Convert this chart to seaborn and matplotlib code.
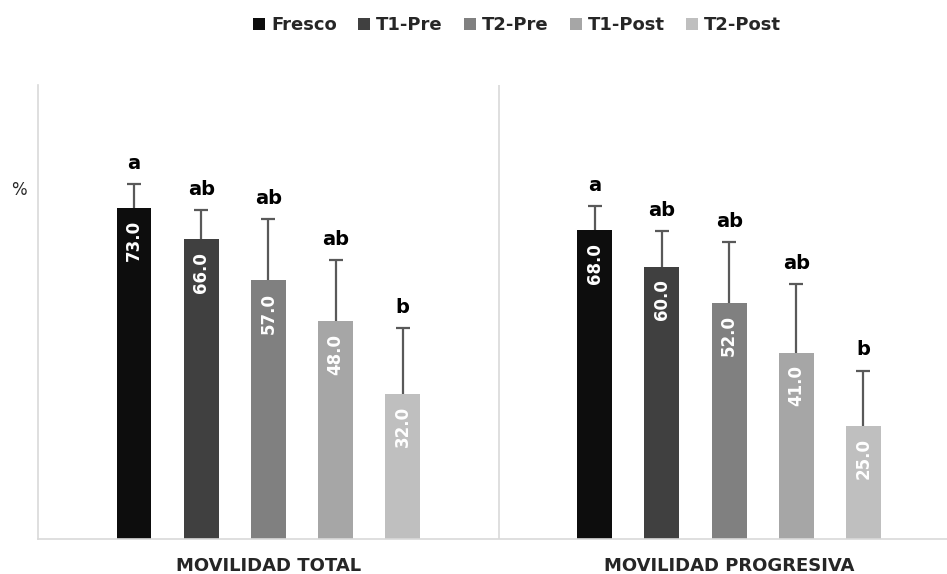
import matplotlib
matplotlib.use("Agg")
import matplotlib.pyplot as plt
from matplotlib.patches import Patch
import seaborn as sns
import pandas as pd
import numpy as np

# ---- data ----
groups = ["MOVILIDAD TOTAL", "MOVILIDAD PROGRESIVA"]
treatments = ["Fresco", "T1-Pre", "T2-Pre", "T1-Post", "T2-Post"]
total_vals = [73.0, 66.0, 57.0, 48.0, 32.0]
progresiva_vals = [68.0, 60.0, 52.0, 41.0, 25.0]
total_err = [5.2, 6.5, 13.5, 13.5, 14.4]
progresiva_err = [5.3, 7.8, 13.4, 15.2, 12.1]
total_letters = ["a", "ab", "ab", "ab", "b"]
progresiva_letters = ["a", "ab", "ab", "ab", "b"]
colors = ["#0d0d0d", "#404040", "#808080", "#a6a6a6", "#bfbfbf"]

rows = []
for g, vals, errs, lets in [(groups[0], total_vals, total_err, total_letters),
                            (groups[1], progresiva_vals, progresiva_err, progresiva_letters)]:
    for t, v, e, l in zip(treatments, vals, errs, lets):
        rows.append({"grupo": g, "tratamiento": t, "valor": v, "err": e, "letra": l})
df = pd.DataFrame(rows)

sns.set_theme(style="white")
plt.rcParams["font.family"] = ["DejaVu Sans"]

W, H = 947, 574
fig = plt.figure(figsize=(W / 100, H / 100), dpi=100)
ax_left, ax_right = 38, 959.5
ax_top, ax_bottom = 85, 539
ax = fig.add_axes([ax_left / W, (H - ax_bottom) / H,
                   (ax_right - ax_left) / W, (ax_bottom - ax_top) / H])

palette = dict(zip(treatments, colors))
sns.barplot(data=df, x="grupo", y="valor", hue="tratamiento",
            order=groups, hue_order=treatments, palette=palette,
            width=0.729, gap=0.48, errorbar=None, legend=False,
            saturation=1, ax=ax, linewidth=0)

ax.set_xlim(-0.5, 1.5)
ax.set_ylim(0, 100)

bar_containers = list(ax.containers)[:len(treatments)]
for hi, cont in enumerate(bar_containers):
    t = treatments[hi]
    for gi, bar in enumerate(cont):
        g = groups[gi]
        row = df[(df.grupo == g) & (df.tratamiento == t)].iloc[0]
        xc = bar.get_x() + bar.get_width() / 2
        h = bar.get_height()
        eb = ax.errorbar([xc], [h], yerr=[[0], [row.err]], fmt="none",
                         ecolor="#595959", elinewidth=1.6, capsize=5, capthick=1.6,
                         zorder=3)
        caps = eb.lines[1]
        if len(caps) == 2:
            caps[0].set_visible(False)
        ax.annotate(row.letra, (xc, h + row.err), xytext=(0, 11),
                    textcoords="offset points", ha="center", va="baseline",
                    fontsize=14, fontweight="bold", color="black")
        ax.annotate(f"{h:.1f}", (xc, h), xytext=(0, -9),
                    textcoords="offset points", ha="center", va="top",
                    rotation=90, fontsize=12, fontweight="bold",
                    color="white", zorder=4)

ax.axvline(0.5, color="#d9d9d9", lw=1.2, zorder=0)
for s in ["top", "right"]:
    ax.spines[s].set_visible(False)
for s in ["left", "bottom"]:
    ax.spines[s].set_color("#d9d9d9")
    ax.spines[s].set_linewidth(1.2)
ax.set_yticks([])
ax.tick_params(axis="x", length=0, pad=13)
for lab in ax.get_xticklabels():
    lab.set_fontsize(13)
    lab.set_fontweight("bold")
    lab.set_color("#262626")
ax.set_xlabel("")
ax.set_ylabel("%", rotation=0, fontsize=12, color="#262626")
ax.yaxis.set_label_coords((19 - ax_left) / (ax_right - ax_left),
                          (ax_bottom - 190) / (ax_bottom - ax_top))
ax.yaxis.label.set_va("center")
ax.yaxis.label.set_ha("center")

handles = [Patch(facecolor=c, edgecolor="none", label=t) for t, c in zip(treatments, colors)]
leg = fig.legend(handles=handles, loc="center", bbox_to_anchor=(517 / W, 1 - 25 / H),
                 ncol=5, frameon=False, handlelength=0.67, handleheight=0.67,
                 handletextpad=0.3, columnspacing=1.2,
                 prop={"size": 13, "weight": "bold"})

fig.savefig("out.png", dpi=100)
